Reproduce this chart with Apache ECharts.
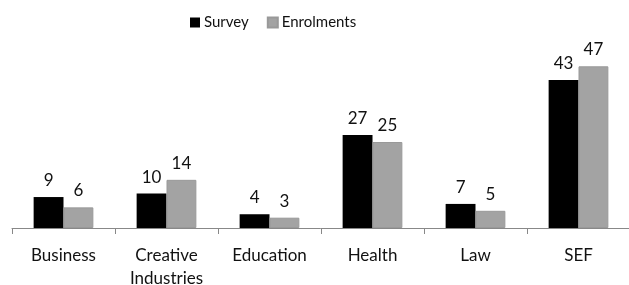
<!DOCTYPE html>
<html>
<head>
<meta charset="utf-8">
<script src="https://cdn.jsdelivr.net/npm/echarts@6/dist/echarts.min.js"></script>
<style>
  html, body { margin: 0; padding: 0; background: #fff; }
  #chart { width: 629px; height: 285px; }
</style>
</head>
<body>
<div id="chart"></div>
<script>
const categories = ['Business', 'Creative\nIndustries', 'Education', 'Health', 'Law', 'SEF'];
const surveyValues = [9, 10, 4, 27, 7, 43];
const enrolmentValues = [6, 14, 3, 25, 5, 47];

const FONT = 'Lato';
const TEXT_COLOR = '#111';

const chart = echarts.init(document.getElementById('chart'), null, { renderer: 'canvas' });

const labelStyle = {
  show: true,
  position: 'top',
  distance: 8,
  color: TEXT_COLOR,
  fontFamily: FONT,
  fontSize: 17,
};

chart.setOption({
  animation: false,
  legend: {
    top: 10,
    left: 185,
    itemWidth: 10,
    itemHeight: 10,
    itemGap: 18,
    icon: 'rect',
    textStyle: { color: TEXT_COLOR, fontFamily: FONT, fontSize: 15, padding: [0, 0, 0, -1] },
    data: ['Survey', 'Enrolments'],
  },
  grid: { left: 12, right: -1, top: 56, bottom: 57, outerBoundsMode: 'none' },
  xAxis: {
    type: 'category',
    data: categories,
    axisLine: { lineStyle: { color: '#888', width: 1 } },
    axisTick: { show: true, length: 6, lineStyle: { color: '#888' } },
    axisLabel: {
      color: TEXT_COLOR,
      fontFamily: FONT,
      fontSize: 17,
      margin: 16,
      lineHeight: 23,
      interval: 0,
    },
  },
  yAxis: {
    type: 'value',
    min: 0,
    max: 50,
    show: false,
    splitLine: { show: false },
  },
  series: [
    {
      name: 'Survey',
      type: 'bar',
      data: surveyValues,
      barGap: '0%',
      barCategoryGap: '42%',
      itemStyle: { color: '#000' },
      label: labelStyle,
    },
    {
      name: 'Enrolments',
      type: 'bar',
      data: enrolmentValues,
      itemStyle: { color: '#a3a3a3', borderColor: '#999', borderWidth: 1 },
      label: labelStyle,
    },
  ],
});
window.addEventListener('resize', chart.resize);
</script>
</body>
</html>
